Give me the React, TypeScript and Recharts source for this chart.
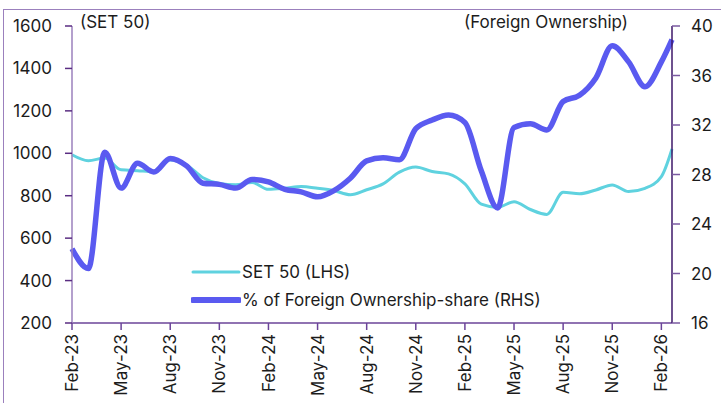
import { LineChart, Line, XAxis, YAxis, Legend } from "recharts";

/* ── SET 50 vs foreign ownership share, monthly ── */

// months since Feb-23 (last point is a partial month)
const monthIndex = [
  0, 1, 2, 3, 4, 5, 6, 7, 8, 9, 10, 11, 12, 13, 14, 15, 16, 17, 18, 19, 20,
  21, 22, 23, 24, 25, 26, 27, 28, 29, 30, 31, 32, 33, 34, 35, 36, 36.65,
];

const set50 = [
  993, 965, 978, 922, 918, 914, 968, 945, 885, 858, 852, 862, 830, 835, 843,
  835, 824, 805, 828, 856, 911, 935, 914, 903, 856, 760, 745, 772, 735, 712,
  816, 809, 827, 851, 820, 835, 890, 1020,
];

const foreignShare = [
  22.0, 20.4, 29.8, 26.9, 28.9, 28.2, 29.3, 28.7, 27.3, 27.2, 26.9, 27.6, 27.4,
  26.8, 26.6, 26.2, 26.7, 27.7, 29.1, 29.35, 29.2, 31.7, 32.4, 32.8, 32.2, 28.3,
  25.3, 31.8, 32.1, 31.6, 33.9, 34.4, 35.8, 38.4, 37.1, 35.1, 37.1, 38.9,
];

const tickMonths = [0, 3, 6, 9, 12, 15, 18, 21, 24, 27, 30, 33, 36];
const tickLabels = [
  "Feb-23", "May-23", "Aug-23", "Nov-23", "Feb-24", "May-24", "Aug-24",
  "Nov-24", "Feb-25", "May-25", "Aug-25", "Nov-25", "Feb-26",
];

const leftTicks = [200, 400, 600, 800, 1000, 1200, 1400, 1600];
const rightTicks = [16, 20, 24, 28, 32, 36, 40];

const FONT = "Inter, 'Noto Sans', sans-serif";
const INK = "#1c1c1c";
const CYAN = "#5fd2df";
const BLUE = "#5a5af0";

const chartData = monthIndex.map((t, i) => ({
  t,
  set: set50[i],
  foreign: foreignShare[i],
}));

function XTick({ x, y, payload }: any) {
  const i = tickMonths.indexOf(payload.value);
  return (
    <g transform={`translate(${x},${y})`}>
      <text
        transform="rotate(-90)"
        x={0}
        y={0}
        dy="0.36em"
        textAnchor="end"
        fill={INK}
        fontSize={17}
        fontFamily={FONT}
      >
        {tickLabels[i]}
      </text>
    </g>
  );
}

const legendOrder = ["set", "foreign"];
const legendWidths: Record<string, number> = { set: 3, foreign: 6 };

function LegendBox({ payload }: any) {
  const items = [...(payload || [])].sort(
    (a: any, b: any) => legendOrder.indexOf(a.dataKey) - legendOrder.indexOf(b.dataKey)
  );
  return (
    <div style={{ fontFamily: FONT, fontSize: 17, color: INK, textAlign: "left" }}>
      {items.map((p: any) => (
        <div
          key={p.dataKey}
          style={{ display: "flex", alignItems: "center", height: 28 }}
        >
          <svg width={50} height={10} style={{ marginRight: 1 }}>
            <line
              x1={2}
              x2={48}
              y1={5}
              y2={5}
              stroke={p.color}
              strokeWidth={legendWidths[p.dataKey]}
              strokeLinecap="round"
            />
          </svg>
          <span>{p.value}</span>
        </div>
      ))}
    </div>
  );
}

export default function App() {
  return (
    <div
      style={{
        position: "absolute",
        left: 0,
        top: 0,
        width: 721,
        height: 403,
        background: "#fff",
        overflow: "hidden",
      }}
    >
      <div
        style={{
          position: "absolute",
          left: 3,
          top: 9,
          width: 730,
          height: 400,
          borderLeft: "1.5px solid #9b80bd",
          borderTop: "1.5px solid #9b80bd",
        }}
      />
      <div
        style={{
          position: "absolute",
          left: 80,
          top: 12,
          fontFamily: FONT,
          fontSize: 17,
          color: INK,
        }}
      >
        (SET 50)
      </div>
      <div
        style={{
          position: "absolute",
          left: 464,
          top: 12,
          fontFamily: FONT,
          fontSize: 17,
          color: INK,
        }}
      >
        (Foreign Ownership)
      </div>
      <div style={{ position: "absolute", left: 0, top: 0 }}>
        <LineChart
          width={721}
          height={403}
          data={chartData}
          margin={{ top: 26, right: 0, bottom: 0, left: 0 }}
        >
          <XAxis
            dataKey="t"
            type="number"
            domain={[0, 36.65]}
            ticks={tickMonths}
            interval={0}
            height={80}
            tick={<XTick />}
            tickSize={7}
            tickMargin={4}
            axisLine={{ stroke: "#6b4499", strokeWidth: 1.5 }}
            tickLine={{ stroke: "#6b4499", strokeWidth: 1.5 }}
          />
          <YAxis
            yAxisId="left"
            orientation="left"
            width={72}
            domain={[200, 1600]}
            ticks={leftTicks}
            interval={0}
            tickSize={7}
            tickMargin={13}
            tick={{ fontSize: 17, fill: INK, fontFamily: FONT }}
            axisLine={{ stroke: "#9b80bd", strokeWidth: 1.5 }}
            tickLine={{ stroke: "#5a2d82", strokeWidth: 1.5 }}
          />
          <YAxis
            yAxisId="right"
            orientation="right"
            width={49}
            domain={[16, 40]}
            ticks={rightTicks}
            interval={0}
            tickSize={8}
            tickMargin={11}
            tick={{ fontSize: 17, fill: INK, fontFamily: FONT }}
            axisLine={{ stroke: "#3e1768", strokeWidth: 1.5 }}
            tickLine={{ stroke: "#7a5aa0", strokeWidth: 1.5 }}
          />
          <Legend
            layout="horizontal"
            verticalAlign="middle"
            align="center"
            content={<LegendBox />}
            wrapperStyle={{ left: 191, top: 258, width: 420 }}
          />
          <Line
            yAxisId="left"
            type="monotone"
            dataKey="set"
            name="SET 50 (LHS)"
            stroke={CYAN}
            strokeWidth={3}
            dot={false}
            isAnimationActive={false}
          />
          <Line
            yAxisId="right"
            type="monotone"
            dataKey="foreign"
            name="% of Foreign Ownership-share (RHS)"
            stroke={BLUE}
            strokeWidth={5.5}
            dot={false}
            isAnimationActive={false}
          />
        </LineChart>
      </div>
    </div>
  );
}
